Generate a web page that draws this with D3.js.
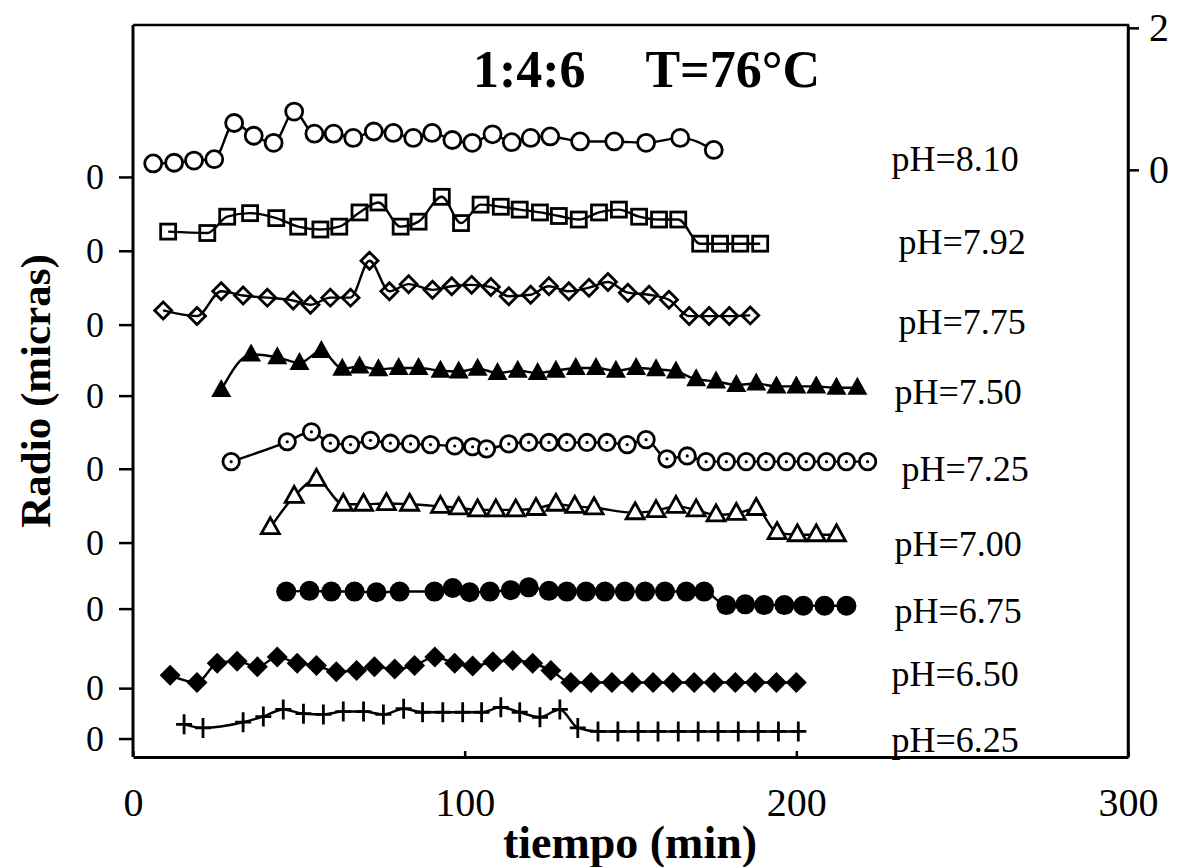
<!DOCTYPE html>
<html><head><meta charset="utf-8">
<script src="https://cdn.jsdelivr.net/npm/d3@7"></script>
<style>body{margin:0;background:#fff}</style>
</head><body><svg id="c" width="1181" height="867"></svg>
<script>
// ---------- data ----------
const phLabels = ["pH=8.10","pH=7.92","pH=7.75","pH=7.50","pH=7.25","pH=7.00","pH=6.75","pH=6.50","pH=6.25"];
// baseline (the "0" of each curve) in right-axis units
const offsets = [-0.10,-1.14,-2.18,-3.18,-4.21,-5.25,-6.18,-7.30,-8.01];
const xTicks = [0,100,200,300];
const rightTicks = [0,2];

const t810 = [6.1,12.4,18.4,24.5,30.5,36.4,42.4,48.6,54.7,60.5,66.4,72.6,78.5,84.5,90.2,96.3,102.3,108.4,114.2,119.9,125.8,134.8,145.1,154.7,165.0,175.1];
const r810 = [0.19,0.20,0.23,0.25,0.76,0.58,0.48,0.92,0.61,0.61,0.55,0.64,0.62,0.55,0.62,0.52,0.48,0.60,0.49,0.55,0.57,0.50,0.50,0.48,0.55,0.38];

const t792 = [10.6,22.4,28.4,35.3,43.2,49.8,56.5,62.2,68.3,74.0,80.7,86.1,93.1,98.9,104.8,110.9,116.6,122.7,128.4,134.4,140.5,146.5,152.6,158.6,164.4,171.0,177.0,183.1,189.1];
const r792 = [0.27,0.25,0.48,0.53,0.46,0.34,0.30,0.34,0.54,0.68,0.34,0.41,0.76,0.39,0.65,0.62,0.58,0.54,0.49,0.44,0.54,0.58,0.48,0.44,0.44,0.10,0.10,0.10,0.10];

const t775 = [9.1,19.3,26.6,33.2,40.5,48.3,53.5,59.5,65.6,71.3,77.3,83.1,90.3,96.1,102.1,107.9,113.3,119.9,125.4,131.4,137.5,143.2,149.2,155.6,161.6,167.7,173.7,179.8,186.1];
const r775 = [0.20,0.12,0.47,0.41,0.38,0.34,0.28,0.38,0.38,0.90,0.47,0.57,0.49,0.54,0.56,0.53,0.40,0.42,0.54,0.47,0.52,0.60,0.45,0.42,0.35,0.12,0.12,0.12,0.13];

const t750 = [26.6,35.6,43.5,50.2,56.8,63.1,68.3,74.0,80.1,86.1,92.7,98.2,103.9,109.9,116.0,122.0,127.5,133.5,139.6,145.6,151.7,157.7,163.7,169.8,175.8,181.9,187.9,194.0,200.0,206.0,212.1,218.4];
const r750 = [0.08,0.58,0.54,0.46,0.63,0.38,0.41,0.37,0.39,0.39,0.35,0.34,0.38,0.32,0.35,0.32,0.35,0.39,0.39,0.35,0.39,0.37,0.34,0.23,0.20,0.15,0.17,0.13,0.13,0.13,0.11,0.11];

const t725 = [29.6,46.5,53.8,59.5,65.6,71.6,77.6,83.7,89.7,97.0,102.4,106.6,113.3,119.3,125.4,130.8,136.9,142.9,149.0,154.7,161.0,167.1,172.8,178.9,184.9,190.9,197.0,203.0,209.1,215.1,221.5];
const r725 = [0.10,0.38,0.52,0.36,0.34,0.40,0.36,0.35,0.34,0.32,0.31,0.28,0.35,0.37,0.37,0.37,0.37,0.37,0.34,0.41,0.14,0.18,0.10,0.10,0.10,0.10,0.10,0.10,0.10,0.10,0.10];

const t700 = [41.4,48.6,55.3,63.4,69.5,76.4,83.4,92.7,98.2,103.9,109.4,115.4,121.5,127.5,133.2,139.0,151.4,157.7,163.7,169.8,175.8,181.9,187.9,194.2,200.3,206.0,212.1];
const r700 = [0.21,0.65,0.89,0.54,0.54,0.55,0.54,0.51,0.49,0.46,0.46,0.46,0.48,0.54,0.51,0.49,0.42,0.45,0.51,0.46,0.39,0.41,0.48,0.14,0.11,0.11,0.11];

const t675 = [46.2,53.2,59.8,66.8,73.4,80.4,90.9,96.4,101.5,107.6,113.9,119.3,125.4,130.8,136.6,142.3,148.3,154.4,160.4,166.8,172.2,178.9,184.6,190.3,196.4,202.1,208.5,215.1];
const r675 = [0.24,0.25,0.24,0.24,0.23,0.24,0.24,0.29,0.23,0.24,0.26,0.30,0.25,0.24,0.24,0.24,0.24,0.24,0.24,0.24,0.24,0.05,0.06,0.05,0.05,0.04,0.04,0.04];

const t650 = [11.2,19.3,25.4,31.4,37.5,43.5,49.5,55.3,61.3,67.4,72.8,78.9,84.9,91.0,97.0,102.4,108.5,114.5,120.5,126.0,132.0,138.1,144.4,150.5,156.8,162.8,169.2,175.2,181.6,187.6,194.0,200.0];
const r650 = [0.18,0.08,0.35,0.38,0.30,0.44,0.35,0.32,0.23,0.25,0.30,0.27,0.32,0.44,0.35,0.31,0.37,0.39,0.35,0.25,0.08,0.08,0.08,0.08,0.08,0.08,0.08,0.08,0.08,0.08,0.08,0.08];

const t625 = [15.4,21.1,33.2,39.3,45.3,51.4,57.4,63.4,69.5,75.5,81.6,87.3,93.4,99.4,105.1,110.9,116.6,122.7,128.7,134.1,140.2,146.2,152.3,158.3,164.4,170.4,176.4,182.5,188.5,194.6,200.6];
const r625 = [0.20,0.15,0.23,0.31,0.41,0.35,0.34,0.38,0.38,0.34,0.42,0.37,0.37,0.37,0.37,0.44,0.37,0.30,0.41,0.15,0.10,0.10,0.10,0.10,0.10,0.10,0.10,0.10,0.10,0.10,0.10];

// label anchors (minutes, right-axis units)
const labelT = [228.7,230.8,230.8,229.6,231.7,229.6,229.6,228.7,228.7];
const labelV = [-0.01,-1.18,-2.31,-3.30,-4.38,-5.44,-6.38,-7.27,-8.20];

const times = [t810,t792,t775,t750,t725,t700,t675,t650,t625];
const radii = [r810,r792,r775,r750,r725,r700,r675,r650,r625];
const markers = ["circle","square","diamond","triTri","dotCircle","openTri","disc","filledDiamond","plus"];

// ---------- drawing ----------
const svg = d3.select("#c");
const FONT = "'Liberation Serif','Times New Roman',Times,serif";
const L = 133, R = 1128, T = 25, B = 757;
const x = d3.scaleLinear().domain([0,300]).range([L,R]);
const y = d3.scaleLinear().domain([-8.27,2.04]).range([B,T]);

// frame top/right
svg.append("path").attr("d",`M${L},${T}H${R}V${B}`).attr("fill","none").attr("stroke","#000").attr("stroke-width",2.5);

function styleAxis(g, fs){
  g.select(".domain").attr("stroke","#000").attr("stroke-width",3);
  g.selectAll(".tick line").attr("stroke","#000").attr("stroke-width",2.5);
  g.selectAll(".tick text").attr("font-family",FONT).attr("font-size",fs).attr("fill","#000");
}

const gL = svg.append("g").attr("transform",`translate(${L},0)`)
  .call(d3.axisLeft(y).tickValues(offsets).tickFormat(()=> "0").tickSizeOuter(0).tickSizeInner(14).tickPadding(15));
styleAxis(gL, 36);
gL.select(".domain").attr("d",`M0,${T}V${B}`);

const gB = svg.append("g").attr("transform",`translate(0,${B})`)
  .call(d3.axisBottom(x).tickValues(xTicks).tickFormat(d3.format("d")).tickSizeOuter(0).tickSizeInner(-6).tickPadding(31));
styleAxis(gB, 40);

const gR = svg.append("g").attr("transform",`translate(${R},0)`)
  .call(d3.axisRight(y).tickValues(rightTicks).tickFormat(d3.format("d")).tickSizeOuter(0).tickSizeInner(11).tickPadding(10));
styleAxis(gR, 40);
gR.select(".domain").attr("stroke-width",2.5);

// series
const line = d3.line().curve(d3.curveMonotoneX);
function marker(g, type, cx, cy){
  const s = "#000";
  if(type==="circle"){ g.append("circle").attr("cx",cx).attr("cy",cy).attr("r",8.5).attr("fill","#fff").attr("stroke",s).attr("stroke-width",2.8);}
  else if(type==="dotCircle"){ g.append("circle").attr("cx",cx).attr("cy",cy).attr("r",8.2).attr("fill","#fff").attr("stroke",s).attr("stroke-width",2.8);
    g.append("circle").attr("cx",cx).attr("cy",cy).attr("r",1.6).attr("fill",s);}
  else if(type==="disc"){ g.append("circle").attr("cx",cx).attr("cy",cy).attr("r",10).attr("fill",s);}
  else if(type==="square"){ g.append("rect").attr("x",cx-7.5).attr("y",cy-7.5).attr("width",15).attr("height",15).attr("fill","none").attr("stroke",s).attr("stroke-width",2.8);}
  else if(type==="diamond"){ const h=8.5; g.append("path").attr("d",`M${cx},${cy-h}L${cx+h},${cy}L${cx},${cy+h}L${cx-h},${cy}Z`).attr("fill","none").attr("stroke",s).attr("stroke-width",2.8);}
  else if(type==="filledDiamond"){ const h=10.5; g.append("path").attr("d",`M${cx},${cy-h}L${cx+h},${cy}L${cx},${cy+h}L${cx-h},${cy}Z`).attr("fill",s);}
  else if(type==="triTri"){ g.append("path").attr("d",`M${cx},${cy-11}L${cx+10},${cy+7}L${cx-10},${cy+7}Z`).attr("fill",s);}
  else if(type==="openTri"){ g.append("path").attr("d",`M${cx},${cy-10}L${cx+9},${cy+6}L${cx-9},${cy+6}Z`).attr("fill","#fff").attr("stroke",s).attr("stroke-width",2.8);}
  else if(type==="plus"){ g.append("path").attr("d",`M${cx-8},${cy}H${cx+8}M${cx},${cy-10}V${cy+10}`).attr("stroke",s).attr("stroke-width",2.8);}
}

times.forEach((ts,i)=>{
  const pts = ts.map((t,j)=>[x(t), y(offsets[i]+radii[i][j])]);
  const g = svg.append("g");
  g.append("path").attr("d",line(pts)).attr("fill","none").attr("stroke","#000").attr("stroke-width",2.4);
  pts.forEach(p=>marker(g, markers[i], p[0], p[1]));
  svg.append("text").attr("x",x(labelT[i])).attr("y",y(labelV[i]))
    .attr("font-family",FONT).attr("font-size",36).attr("fill","#000").text(phLabels[i]);
});

// title
svg.append("text").attr("x",x(102.5)).attr("y",87).attr("font-family",FONT).attr("font-weight","bold").attr("font-size",52).text("1:4:6");
svg.append("text").attr("x",x(154.5)).attr("y",87).attr("font-family",FONT).attr("font-weight","bold").attr("font-size",52).text("T=76°C");

// axis titles
svg.append("text").attr("x",630).attr("y",858).attr("text-anchor","middle")
  .attr("font-family",FONT).attr("font-weight","bold").attr("font-size",46).text("tiempo (min)");
svg.append("text").attr("transform",`translate(50,${(T+B)/2}) rotate(-90)`).attr("text-anchor","middle")
  .attr("font-family",FONT).attr("font-weight","bold").attr("font-size",43).text("Radio (micras)");
</script></body></html>
